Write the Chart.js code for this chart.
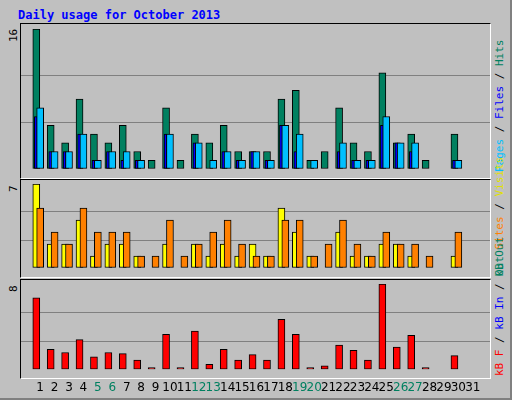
<!DOCTYPE html>
<html><head><meta charset="utf-8">
<script src="https://cdn.jsdelivr.net/npm/chart.js@4"></script>
<style>
body{margin:0;background:#fff}
#wrap{position:absolute;left:0;top:0;width:510px;height:398px;background:#c0c0c0;border-right:2px solid #808080;border-bottom:2px solid #808080}
.panel{position:absolute;left:20px;width:469px;border-top:1px solid #000;border-left:1px solid #000;border-right:1px solid #fff;border-bottom:1px solid #fff}
canvas{position:absolute}
.t{position:absolute;font-family:"DejaVu Sans Mono",monospace;font-size:11px;white-space:nowrap;line-height:12px}
.l{transform-origin:0 0;transform:rotate(-90deg)}
</style></head><body>
<div id="wrap">
<div class="t" style="left:18px;top:9px;color:#0000ff;font-weight:bold;font-size:12px">Daily usage for October 2013</div>
<div class="panel" style="top:23px;height:154px"></div>
<div class="panel" style="top:179px;height:97px"></div>
<div class="panel" style="top:279px;height:98px"></div>
<div class="t l" style="left:8px;top:42px">16</div>
<div class="t l" style="left:8px;top:192px">7</div>
<div class="t l" style="left:8px;top:292px">8</div>
<div class="t l" style="left:494px;top:172px"><span style="color:#00c0ff">Pages</span><span style="color:#000"> / </span><span style="color:#0000ff">Files</span><span style="color:#000"> / </span><span style="color:#008060">Hits</span></div>
<div class="t l" style="left:494px;top:276px"><span style="color:#008060">Out</span> <span style="color:#ff8000">Sites</span><span style="color:#000"> / </span><span style="color:#e0e000">Visits</span></div>
<div class="t l" style="left:494px;top:376px"><span style="color:#ff0000">kB F</span><span style="color:#000"> / </span><span style="color:#0000ff">kB In</span><span style="color:#000"> / </span><span style="color:#008060">kB Out</span></div>
<canvas id="c1" style="left:21px;top:24px" width="469" height="154"></canvas>
<canvas id="c2" style="left:21px;top:180px" width="469" height="97"></canvas>
<canvas id="c3" style="left:21px;top:280px" width="469" height="118"></canvas>
</div>
<script>
const days=[1,2,3,4,5,6,7,8,9,10,11,12,13,14,15,16,17,18,19,20,21,22,23,24,25,26,27,28,29,30,31];
const weekend=[5,6,12,13,19,20,26,27];
const hits=[16,5,3,8,4,3,5,2,1,7,1,4,3,5,2,2,2,8,9,1,2,7,3,2,11,3,4,1,0,4,0];
const files=[7,2,2,4,1,2,2,1,0,4,0,3,1,2,1,2,1,5,4,1,0,3,1,1,6,3,3,0,0,1,0];
const pages=[6,2,2,4,1,2,1,1,0,4,0,3,0,2,1,2,1,5,2,0,0,2,1,1,5,3,2,0,0,1,0];
const visits=[7,2,2,4,1,2,2,1,0,2,0,2,1,2,1,2,1,5,3,1,0,3,1,1,2,2,1,0,0,1,0];
const sites=[5,3,2,5,3,3,3,1,1,4,1,2,3,4,2,1,1,4,4,1,2,4,2,1,3,2,2,1,0,3,0];
const kbF=[6.7,1.9,1.6,2.8,1.2,1.6,1.5,0.9,0.2,3.3,0.2,3.6,0.5,1.9,0.9,1.4,0.9,4.7,3.3,0.2,0.35,2.3,1.8,0.9,8,2.1,3.2,0.2,0,1.3,0];
const yMax1=16,yMax2=7,yMax3=8;

Chart.defaults.animation=false;
const pts=(arr,off)=>arr.map((v,i)=>({x:days[i]+off,y:v}));
const ds=(data,off,color,w,ord)=>({data:pts(data,off),backgroundColor:color,borderColor:'#000',borderWidth:1,barThickness:w,grouped:false,borderSkipped:false,order:ord});
function make(id,sets,max,padTop,showX){
  return new Chart(document.getElementById(id),{type:'bar',data:{datasets:sets},
   options:{responsive:false,animation:false,layout:{padding:{top:padTop,bottom:showX?0:1,left:0,right:0}},
    plugins:{legend:{display:false},tooltip:{enabled:false}},
    scales:{
     x:{type:'linear',min:0.195,max:31.67,border:{display:false},grid:{display:false},
        afterBuildTicks:s=>{s.ticks=days.map(d=>({value:d}));},
        ticks:{display:showX,autoSkip:false,maxRotation:0,padding:3,font:{family:'DejaVu Sans',size:12},
          color:c=>weekend.includes(c.tick.value)?'#008060':'#000',callback:v=>String(v)}},
     y:{min:0,max:max,display:true,border:{display:false},
        afterBuildTicks:s=>{s.ticks=[0,max/3,2*max/3,max].map(v=>({value:v}));},
        ticks:{display:false},
        grid:{color:c=>(c.index===1||c.index===2)?'#808080':'rgba(0,0,0,0)',lineWidth:1,drawTicks:false}}}}});
}
make('c1',[ds(hits,-0.27,'#008060',7,3),ds(pages,-0.3,'#0000ff',3,2),ds(files,0,'#00c0ff',7,1)],yMax1,5,false);
make('c2',[ds(visits,-0.27,'#ffff00',7,2),ds(sites,0,'#ff8000',7,1)],yMax2,4,false);
make('c3',[ds(kbF,-0.27,'#ff0000',7,1)],yMax3,4,true);
</script></body></html>
